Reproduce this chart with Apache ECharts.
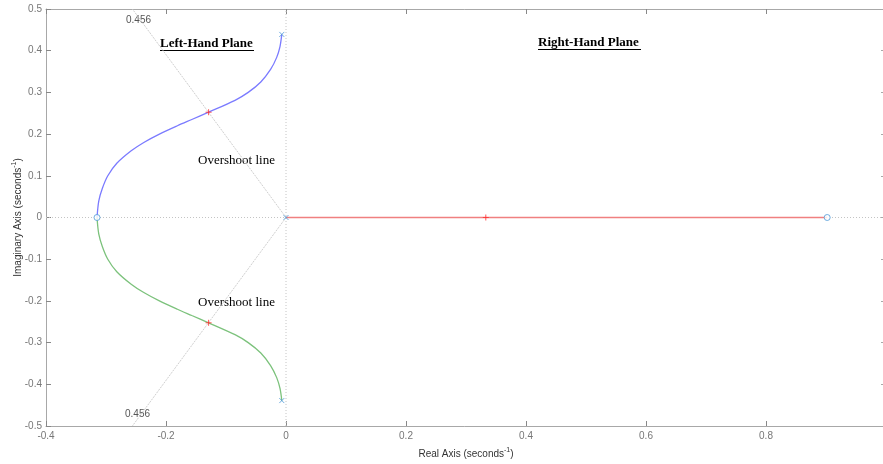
<!DOCTYPE html>
<html>
<head>
<meta charset="utf-8">
<script src="https://cdn.jsdelivr.net/npm/echarts@6/dist/echarts.min.js"></script>
<style>html,body{margin:0;padding:0;background:#fff;}#c{width:883px;height:464px;}</style>
</head>
<body>
<div id="c"></div>
<script>
// Root-locus branches (real, imaginary)
const upperBranch = [[-0.007,0.439],[-0.010,0.41],[-0.0155,0.384],[-0.0257,0.355],[-0.042,0.325],[-0.063,0.30],[-0.085,0.281],[-0.129,0.2525],[-0.157,0.235],[-0.181,0.22],[-0.211,0.20],[-0.237,0.18],[-0.258,0.16],[-0.282,0.13],[-0.297,0.10],[-0.306,0.07],[-0.312,0.04],[-0.315,0]];
const lowerBranch = upperBranch.map(p => [p[0], -p[1]]);
const realBranch = [[0,0],[0.902,0]];
const poles = [[-0.007,0.439],[-0.007,-0.439],[0,0]];
const zeros = [[-0.315,0],[0.902,0]];
const operatingPoints = [[-0.129,0.2525],[-0.129,-0.2525],[0.333,0]];
const overshootUpper = [[0,0],[-0.256,0.5]];
const overshootLower = [[0,0],[-0.256,-0.5]];
const realAxisLine = [[-0.4,0],[1.0,0]];
const imagAxisLine = [[0,-0.5],[0,0.5]];
const xTicks = {min:-0.4, max:1.0, interval:0.2};
const yTicks = {min:-0.5, max:0.5, interval:0.1};

const chart = echarts.init(document.getElementById('c'));
const axisColor = '#a8a8a8';
const labelColor = '#777';
const xSym = 'path://M0,0L10,10M10,0L0,10';
const plusSym = 'path://M5,0L5,10M0,5L10,5';

chart.setOption({
  animation:false,
  grid:{left:46, top:9, right:-3, bottom:38, containLabel:false, outerBoundsMode:'none'},
  xAxis:[{
    type:'value', min:xTicks.min, max:xTicks.max, interval:xTicks.interval,
    axisLine:{onZero:false, lineStyle:{color:axisColor}},
    axisTick:{inside:true, length:5, lineStyle:{color:'#888'}},
    splitLine:{show:false},
    axisLabel:{color:labelColor, fontSize:10, fontFamily:'Liberation Sans', margin:5, formatter:v=>String(+v.toFixed(1))},
    name:'Real Axis (seconds{sup|-1})', nameLocation:'middle', nameGap:21, nameMoveOverlap:false,
    nameTextStyle:{color:'#333', fontSize:10, fontFamily:'Liberation Sans', rich:{sup:{fontSize:7, verticalAlign:'top', padding:[0,0,8,0], color:'#333'}}}
  },{
    type:'value', position:'top', min:xTicks.min, max:xTicks.max, interval:xTicks.interval,
    axisLine:{onZero:false, lineStyle:{color:axisColor}},
    axisTick:{inside:true, length:5, lineStyle:{color:'#888'}},
    axisLabel:{show:false}, splitLine:{show:false}
  }],
  yAxis:[{
    type:'value', min:yTicks.min, max:yTicks.max, interval:yTicks.interval,
    axisLine:{show:true, onZero:false, lineStyle:{color:axisColor}},
    axisTick:{show:true, inside:true, length:5, lineStyle:{color:'#888'}},
    splitLine:{show:false},
    axisLabel:{color:labelColor, fontSize:10, fontFamily:'Liberation Sans', margin:4, formatter:v=>String(+v.toFixed(1))},
    name:'Imaginary Axis (seconds{sup|-1})', nameLocation:'middle', nameGap:20, nameRotate:90, nameMoveOverlap:false,
    nameTextStyle:{color:'#333', fontSize:10, fontFamily:'Liberation Sans', rich:{sup:{fontSize:7, verticalAlign:'top', padding:[0,0,8,0], color:'#333'}}}
  },{
    type:'value', position:'right', min:yTicks.min, max:yTicks.max, interval:yTicks.interval,
    axisLine:{show:true, onZero:false, lineStyle:{color:axisColor}},
    axisTick:{show:true, inside:true, length:5}, axisLabel:{show:false}, splitLine:{show:false}
  }],
  series:[
    {type:'line', data:realAxisLine, symbol:'none', lineStyle:{color:'#c4c4c4', width:1, type:[1,2]}, z:1},
    {type:'line', data:imagAxisLine, symbol:'none', lineStyle:{color:'#c4c4c4', width:1, type:[1,2]}, z:1},
    {type:'line', data:overshootUpper, symbol:'none', lineStyle:{color:'#cfcfcf', width:1, type:[2,1]}, z:1},
    {type:'line', data:overshootLower, symbol:'none', lineStyle:{color:'#cfcfcf', width:1, type:[2,1]}, z:1},
    {type:'line', data:upperBranch, symbol:'none', smooth:0.3, lineStyle:{color:'#7b7bff', width:1.3}, z:3},
    {type:'line', data:lowerBranch, symbol:'none', smooth:0.3, lineStyle:{color:'#7cc27c', width:1.3}, z:3},
    {type:'line', data:realBranch, symbol:'none', lineStyle:{color:'#f08080', width:1.3}, z:3},
    {type:'scatter', data:poles, symbol:xSym, symbolSize:5, itemStyle:{color:'none', borderColor:'#4f9ad8', borderWidth:1}, z:5},
    {type:'scatter', data:zeros, symbol:'circle', symbolSize:6, itemStyle:{color:'#fff', borderColor:'#4f9ad8', borderWidth:1}, z:5},
    {type:'scatter', data:operatingPoints, symbol:plusSym, symbolSize:6, itemStyle:{color:'none', borderColor:'#ff3030', borderWidth:1}, z:6}
  ],
  graphic:[
    {type:'text', left:160, top:37, style:{text:'Left-Hand Plane', font:'bold 13px "Liberation Serif"', fill:'#000'}},
    {type:'rect', shape:{x:160, y:50, width:94, height:1}, style:{fill:'#000'}},
    {type:'text', left:538, top:36, style:{text:'Right-Hand Plane', font:'bold 13px "Liberation Serif"', fill:'#000'}},
    {type:'rect', shape:{x:538, y:49, width:103, height:1}, style:{fill:'#000'}},
    {type:'text', left:198, top:154, style:{text:'Overshoot line', font:'13px "Liberation Serif"', fill:'#000'}},
    {type:'text', left:198, top:296, style:{text:'Overshoot line', font:'13px "Liberation Serif"', fill:'#000'}},
    {type:'text', left:126, top:15, style:{text:'0.456', font:'10px "Liberation Sans"', fill:'#555'}},
    {type:'text', left:125, top:409, style:{text:'0.456', font:'10px "Liberation Sans"', fill:'#555'}}
  ]
});
</script>
</body>
</html>
